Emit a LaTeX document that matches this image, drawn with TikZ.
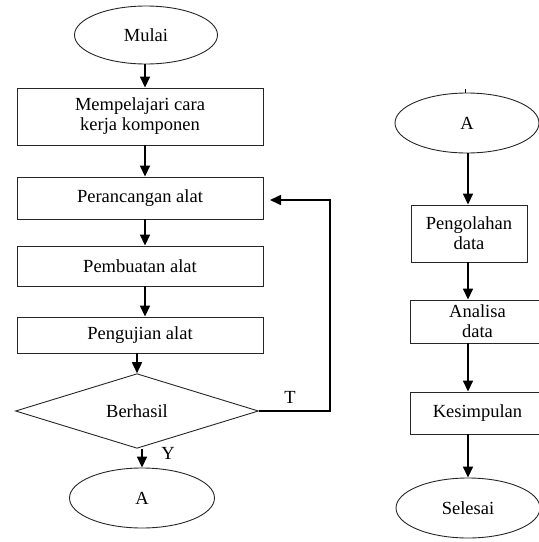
\documentclass[tikz,border=0pt]{standalone}
\usepackage{fontspec}
\setmainfont{Liberation Serif}
\usetikzlibrary{shapes.geometric,arrows.meta,calc}
\begin{document}
\begin{tikzpicture}[x=1pt,y=-1pt,
  every node/.style={font=\fontsize{18.5}{20}\selectfont, text=black},
  box/.style={draw=black!85, line width=0.9pt, rectangle, inner sep=0pt, align=center},
  oval/.style={draw=black!85, line width=0.9pt, ellipse, inner sep=0pt},
  dec/.style={draw=black!85, line width=0.9pt, diamond, inner sep=0pt},
  arr/.style={line width=1.6pt, -{Triangle[width=10pt,length=11pt]}},
  lbl/.style={inner sep=0pt}]
\useasboundingbox (0,0) rectangle (539,542);
\clip (0,0) rectangle (539,542);
% left column
\node[oval, minimum width=143, minimum height=58] (mulai) at (146,35) {Mulai};
\node[box, minimum width=246, minimum height=57] (b1) at (140,116.5) {Mempelajari cara\\kerja komponen};
\node[box, minimum width=246, minimum height=42] (b2) at (140,198) {Perancangan alat};
\node[box, minimum width=246, minimum height=40] (b3) at (140,266) {Pembuatan alat};
\node[box, minimum width=246, minimum height=36] (b4) at (140,335) {Pengujian alat};
\node[dec, minimum width=243, minimum height=68] (d) at (137,411) {Berhasil};
\node[oval, minimum width=145, minimum height=60] (a1) at (142,498) {A};
\coordinate (xl) at (145,0);
\draw[arr] (mulai.south -| xl) -- (b1.north -| xl);
\draw[arr] (b1.south -| xl) -- (b2.north -| xl);
\draw[arr] (b2.south -| xl) -- (b3.north -| xl);
\draw[arr] (b3.south -| xl) -- (b4.north -| xl);
\draw[arr] (b4.south -| d.north) -- (d.north);
\draw[arr] (d.south -| a1.north) -- (a1.north);
\coordinate (fb) at (330,200);
\draw[arr] (d.east) -| (fb) -- (270,200);
\node[lbl] (t) at (290,397) {T};
\node[lbl] (y) at (168,453) {Y};
% right column
\node[oval, minimum width=144, minimum height=60] (a2) at (467,123) {A};
\node[box, minimum width=116, minimum height=57] (b5) at (469,233.5) {Pengolahan\\data};
\node[box, minimum width=135, minimum height=43] (b6) at (477.5,321.5) {Analisa\\data};
\node[box, minimum width=135, minimum height=42] (b7) at (477.5,413) {Kesimpulan};
\node[oval, minimum width=144, minimum height=60] (sel) at (468,508) {Selesai};
\coordinate (xr) at (468,0);
\coordinate (tk) at (465,89);
\draw[line width=0.6pt] (tk) -- (tk |- a2.north);
\draw[arr] (a2.south -| xr) -- (b5.north -| xr);
\draw[arr] (b5.south -| xr) -- (b6.north -| xr);
\draw[arr] (b6.south -| xr) -- (b7.north -| xr);
\draw[arr] (b7.south -| xr) -- (sel.north -| xr);
\end{tikzpicture}
\end{document}
